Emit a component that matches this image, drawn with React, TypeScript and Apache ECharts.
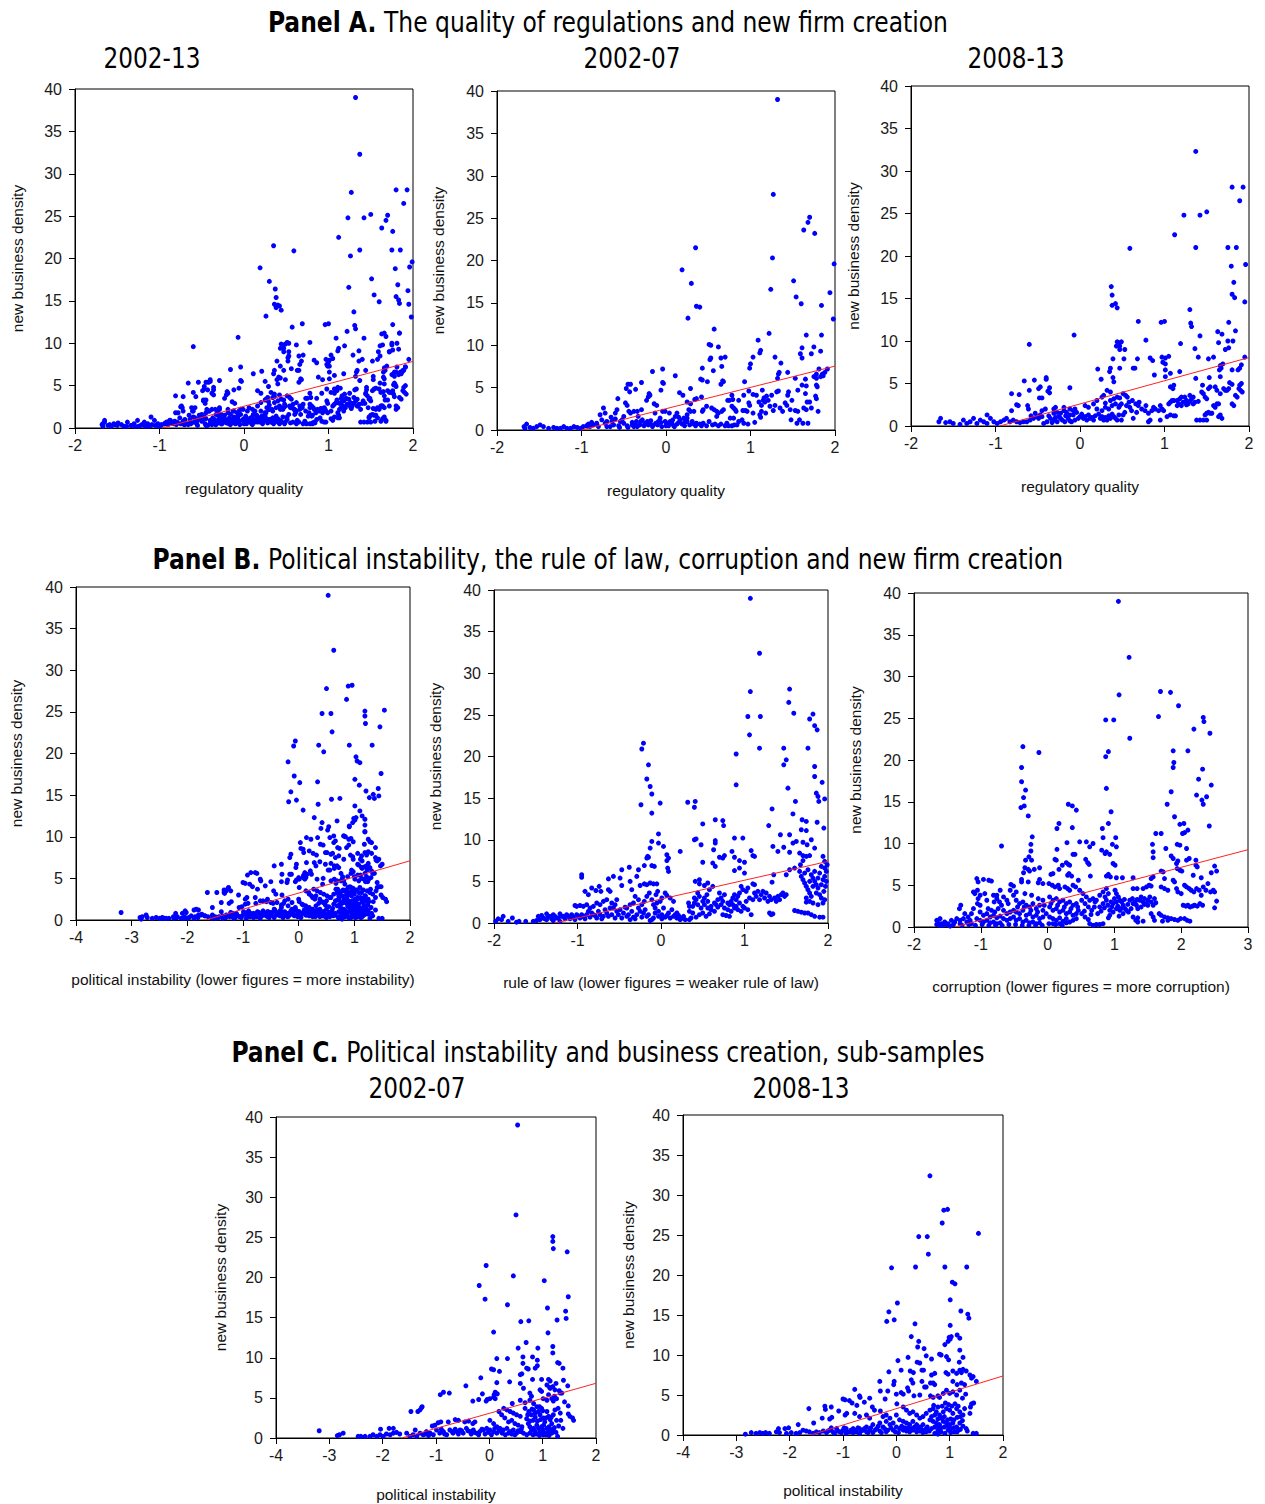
import React, { useEffect, useRef } from "react";
import * as echarts from "echarts";

// ---------- data ----------
// Panel A: regulatory quality vs new business density
const regQuality0207: number[][] = [
  [1.32,39.0],[1.27,27.8],[1.70,25.1],[1.68,24.5],[1.63,23.6],[1.76,23.2],[0.35,21.5],[1.26,20.3],[1.99,19.6],[0.19,18.9],
  [1.51,17.6],[0.30,17.3],[1.24,16.6],[1.94,16.2],[1.54,15.7],[1.60,14.9],[1.84,14.7],[0.36,14.6],[0.40,14.5],[0.26,13.2],
  [1.98,13.1],[0.57,11.9],[1.22,11.4],[1.66,11.2],[1.84,11.2],[1.09,10.6],[1.61,9.7],[1.75,9.8],[0.51,10.1],[0.53,10.0],
  [0.62,9.8],[1.03,8.6],[1.00,7.8],[0.99,7.3],[1.12,9.4],[1.11,9.1],[1.29,8.6],[1.36,7.9],[1.59,9.0],[1.61,8.5],
  [1.72,9.0],[1.83,9.3],[0.53,8.5],[0.52,8.3],[0.65,8.5],[0.70,8.6],[0.43,7.3],[0.66,7.5],[0.56,7.0],[0.67,5.8],
  [0.65,5.4],[0.68,5.7],[0.43,5.9],[0.41,6.0],[0.49,5.7],[-0.16,6.9],[-0.04,7.2],[0.11,6.4],[-0.03,5.5],[-0.04,5.6],
  [-0.29,5.6],[-0.45,5.4],[-0.42,5.4],[-0.47,4.9],[-0.43,4.5],[-0.36,4.8],[-0.57,3.7],[-0.06,4.7],[0.29,4.9],[0.16,4.4],
  [0.20,4.1],[0.93,5.7],[1.44,6.8],[1.34,6.8],[1.33,6.6],[1.32,6.1],[1.91,7.2],[1.81,7.2],[1.78,6.6],[1.83,6.3],
  [1.85,6.6],[1.78,6.1],[1.75,6.3],[1.65,6.0],[1.66,5.2],[1.65,4.3],[1.78,5.3],[1.79,5.1],[1.67,3.3],[1.63,2.6],
  [1.66,2.4],[1.80,2.2],[1.77,4.0],[1.78,3.7],[1.61,5.3],[1.53,6.1],[1.56,4.7],[1.45,4.5],[1.44,4.1],[1.49,3.5],
  [1.41,3.2],[1.43,2.9],[1.35,2.6],[1.29,2.9],[1.23,2.8],[1.21,3.5],[1.17,3.3],[1.15,3.5],[1.13,2.9],[1.10,3.3],
  [1.16,3.8],[1.19,4.0],[1.14,4.7],[1.25,4.1],[1.31,4.5],[1.33,4.6],[1.13,2.2],[1.11,1.8],[1.12,1.5],[1.03,2.0],
  [0.98,3.2],[0.99,2.9],[1.03,4.2],[1.07,4.1],[0.98,4.6],[0.92,4.1],[0.86,3.5],[0.78,4.1],[0.79,3.6],[0.75,3.5],
  [0.73,3.5],[0.82,2.4],[0.83,2.2],[0.91,2.3],[0.94,2.3],[0.96,2.2],[0.78,2.8],[0.80,2.6],[0.80,1.4],[0.76,1.4],
  [0.86,1.0],[0.90,1.2],[0.92,0.8],[0.70,0.5],[0.74,0.5],[0.78,0.5],[0.81,0.6],[0.60,1.6],[0.62,2.0],[0.57,2.4],
  [0.54,2.6],[0.60,2.2],[0.66,2.2],[0.68,2.4],[0.51,1.0],[0.44,0.8],[0.40,0.7],[0.36,0.8],[0.33,0.7],[0.43,2.2],
  [0.44,2.4],[0.48,2.8],[0.42,3.9],[0.34,3.6],[0.36,3.7],[0.29,3.1],[0.25,3.3],[0.27,2.4],[0.29,2.2],[0.33,2.2],
  [0.25,1.8],[0.25,1.4],[0.21,1.4],[0.17,1.2],[0.25,1.0],[0.31,1.0],[0.13,2.0],[0.11,1.6],[0.15,1.5],[0.08,1.2],
  [0.05,1.0],[0.02,0.8],[-0.01,1.0],[0.07,0.8],[0.13,0.7],[0.19,0.7],[0.04,2.0],[-0.01,2.2],[-0.04,2.2],[-0.07,1.4],
  [-0.09,1.0],[-0.12,0.8],[-0.15,0.6],[-0.13,2.0],[-0.14,3.1],[-0.11,2.9],[-0.19,4.1],[-0.21,3.9],[-0.20,4.3],[-0.23,3.5],
  [-0.25,0.8],[-0.21,0.6],[-0.19,0.7],[-0.31,0.6],[-0.34,0.4],[-0.38,0.4],[-0.40,0.6],[-0.29,2.4],[-0.34,2.2],[-0.38,2.2],
  [-0.33,1.6],[-0.42,2.0],[-0.44,2.2],[-0.46,2.9],[-0.48,3.2],[-0.50,1.6],[-0.52,1.2],[-0.54,1.0],[-0.58,2.4],[-0.60,2.0],
  [-0.64,1.0],[-0.62,0.6],[-0.66,0.4],[-0.70,0.4],[-0.72,0.8],[-0.74,2.6],[-0.72,2.0],[-0.78,1.8],[-0.82,0.8],[-0.80,0.4],
  [-0.86,0.6],[-0.90,0.4],[-0.94,0.5],[-0.98,0.4],[-1.01,0.2],[-1.05,0.3],[-1.09,0.4],[-1.13,0.2],[-1.17,0.2],[-1.21,0.4],
  [-1.25,0.2],[-1.29,0.2],[-1.33,0.3],[-1.39,0.2],[-1.45,0.4],[-1.49,0.6],[-1.53,0.4],[-1.57,0.2],[-1.61,0.3],[-1.65,0.7],
  [-1.67,0.2],[-1.68,0.4],[-0.55,0.3],[-0.45,0.3],[-0.35,1.0],[-0.28,1.2],[-0.18,1.1],[-0.05,0.4],[0.00,0.5],[0.10,0.4],
  [0.22,0.5],[0.48,0.5],[0.55,0.6],[0.62,0.5],[1.48,1.2],[1.55,0.8],[1.58,1.2],[1.62,0.8],[1.68,0.8],[1.56,2.2],[1.53,2.3],
  [-0.56,0.5],[-0.50,0.8],[-0.46,0.5],[-0.40,0.9],[-0.36,0.6],[-0.30,1.0],[-0.26,0.5],[-0.22,1.0],[-0.16,0.4],[-0.10,0.6],
  [-0.06,0.9],[0.03,0.5],[0.09,0.5],[0.15,0.9],[0.22,0.9],[0.28,0.6],[0.35,0.5],[0.42,0.5],[0.58,0.7],[0.65,0.7],
  [0.72,0.8],[0.84,0.6],[0.97,0.7],[1.05,0.9],[1.18,2.0],[1.27,2.3],[1.38,2.2],[1.47,2.4],[1.70,3.3],[1.72,2.6],
  [1.86,6.4],[1.88,6.8],[-0.65,1.5],[-0.60,1.3],[-0.70,1.0],[-0.76,1.2],[-0.88,0.9],[-0.92,0.7]
];
const regQuality0813: number[][] = [
  [1.37,32.3],[1.80,28.1],[1.93,28.1],[1.89,26.5],[1.23,24.8],[1.42,24.8],[1.50,25.2],[1.12,22.5],[0.59,20.9],[1.37,21.0],
  [1.75,21.0],[1.85,21.0],[1.96,19.0],[1.79,18.8],[1.82,16.9],[0.37,16.4],[0.38,15.4],[1.80,15.5],[1.83,15.1],[0.38,14.2],
  [0.42,14.4],[0.44,13.9],[1.95,14.6],[1.30,13.7],[0.69,12.3],[0.96,12.2],[1.00,12.3],[1.31,12.1],[1.32,11.7],[1.76,12.2],
  [1.63,11.1],[1.68,10.8],[1.84,11.2],[-0.07,10.7],[1.42,10.6],[0.78,10.1],[-0.60,9.6],[1.19,9.7],[1.64,9.8],[1.75,10.0],
  [1.81,10.0],[0.44,9.9],[0.47,9.8],[0.49,9.9],[0.43,9.4],[0.47,9.4],[0.47,9.0],[0.53,9.0],[1.36,9.1],[1.72,9.0],
  [1.76,9.2],[0.97,8.1],[1.01,8.0],[1.05,8.2],[1.40,8.1],[0.39,7.9],[0.52,7.9],[0.68,7.9],[0.83,8.0],[0.86,7.7],
  [1.58,8.1],[1.52,7.9],[1.95,8.1],[1.69,7.3],[1.66,7.1],[1.91,7.2],[1.87,6.6],[1.89,6.8],[0.47,6.8],[0.63,6.8],
  [0.65,6.8],[0.21,6.7],[0.35,6.4],[0.36,6.8],[1.01,7.3],[0.98,7.5],[1.01,6.6],[1.07,6.2],[1.18,6.4],[1.67,6.8],
  [1.65,6.6],[1.80,6.6],[0.88,6.0],[1.01,5.8],[0.25,5.5],[0.39,5.7],[0.40,5.2],[1.37,5.6],[1.53,5.7],[1.66,5.8],
  [1.77,5.1],[1.80,4.9],[1.89,4.8],[1.91,5.0],[-0.66,5.3],[-0.54,5.4],[-0.40,5.7],[-0.40,5.5],[-0.47,4.6],[-0.49,4.4],
  [-0.36,4.5],[-0.38,4.1],[-0.60,4.2],[-0.48,3.3],[-0.45,3.3],[-0.36,3.9],[-0.12,4.5],[-0.81,3.8],[-0.72,3.7],[-0.75,2.5],
  [-0.73,2.4],[-0.81,1.8],[-0.62,2.4],[-0.61,2.0],[-0.29,2.2],[-0.31,2.0],[-0.19,2.2],[-0.12,2.0],[-0.08,1.8],[-0.06,2.0],
  [-0.04,1.6],[0.06,2.4],[0.10,2.2],[0.16,2.6],[0.20,3.0],[0.26,3.4],[0.28,3.6],[0.32,4.2],[0.36,4.0],[0.40,3.2],
  [0.44,3.4],[0.47,3.3],[0.51,3.8],[0.54,3.6],[0.56,3.4],[0.47,2.4],[0.49,2.6],[0.55,2.4],[0.59,2.2],[0.53,1.6],
  [0.51,1.3],[0.49,0.7],[0.61,1.8],[0.63,0.9],[0.67,1.6],[0.69,2.4],[0.73,2.0],[0.77,1.8],[0.81,1.5],[0.83,0.7],
  [0.81,0.5],[0.87,2.2],[0.89,2.0],[0.93,1.8],[0.95,2.4],[0.95,0.7],[0.97,2.0],[0.99,1.8],[1.03,1.1],[1.07,1.3],
  [1.11,1.2],[1.13,1.2],[1.05,2.6],[1.07,2.8],[1.09,3.0],[1.11,3.0],[1.07,4.6],[1.10,4.4],[1.11,4.8],[1.15,3.0],
  [1.17,2.6],[1.18,3.2],[1.20,2.4],[1.22,2.8],[1.24,3.4],[1.26,3.0],[1.28,2.6],[1.30,3.6],[1.32,3.2],[1.34,2.6],
  [1.36,2.8],[1.38,0.7],[1.42,0.7],[1.45,4.8],[1.44,4.0],[1.46,3.8],[1.48,3.4],[1.50,3.2],[1.52,4.4],[1.54,4.6],
  [1.48,1.3],[1.50,1.5],[1.52,1.6],[1.54,1.5],[1.56,1.5],[1.50,0.7],[1.46,0.7],[1.58,2.4],[1.60,2.2],[1.62,2.6],
  [1.64,2.6],[1.60,4.6],[1.62,4.2],[1.66,3.8],[1.64,1.1],[1.66,1.3],[1.68,0.9],[1.70,4.4],[1.72,4.2],[1.74,4.2],
  [1.76,4.4],[1.80,2.6],[1.82,2.4],[1.84,3.6],[1.86,3.4],[1.88,4.4],[1.90,4.2],[1.92,4.0],[0.24,0.9],[0.28,0.7],
  [0.32,0.7],[0.36,0.9],[0.40,1.1],[0.44,0.7],[0.46,1.3],[0.16,0.7],[0.12,0.9],[0.08,0.7],[0.04,0.9],[0.00,1.1],
  [-0.06,0.7],[-0.10,0.5],[-0.14,0.9],[-0.18,0.5],[-0.21,0.7],[-0.25,1.1],[-0.27,0.5],[-0.31,0.7],[-0.35,0.9],[-0.39,0.5],
  [-0.43,0.3],[-0.31,1.5],[-0.27,1.6],[-0.23,1.5],[-0.19,1.8],[-0.16,1.6],[-0.12,1.3],[-0.08,1.3],[-0.47,1.3],[-0.51,1.1],
  [-0.55,0.9],[-0.59,0.7],[-0.63,0.5],[-0.67,0.5],[-0.71,0.4],[-0.75,0.5],[-0.79,0.7],[-0.83,0.5],[-0.87,0.9],[-0.90,0.7],
  [-0.94,0.5],[-0.41,2.0],[-0.45,1.8],[-0.98,0.3],[-1.02,0.5],[-1.06,0.9],[-1.10,0.3],[-1.14,0.5],[-1.18,0.7],[-1.22,0.3],
  [-1.26,0.9],[-1.30,0.5],[-1.34,0.3],[-1.38,0.7],[-1.42,0.2],[-1.50,0.3],[-1.54,0.5],[-1.59,0.4],[-1.65,0.9],[-1.67,0.5],
  [-1.10,1.3],
  [-0.58,1.2],[-0.53,1.5],[-0.49,0.9],[-0.45,1.1],[-0.37,1.2],[-0.33,0.4],[-0.29,1.0],[-0.23,0.9],[-0.17,1.2],[-0.12,0.6],
  [-0.02,0.9],[0.02,1.4],[0.06,1.1],[0.10,1.3],[0.14,1.0],[0.18,1.2],[0.22,1.4],[0.26,1.1],[0.30,1.0],[0.34,1.2],
  [0.38,1.4],[0.42,0.9],[0.20,2.0],[0.26,1.8],[0.30,2.2],[0.34,2.0],[0.38,2.4],[0.42,2.6],[0.46,2.2],[0.30,2.7],
  [0.36,3.0],[0.58,2.8],[0.62,3.0],[0.66,2.6],[0.70,2.8],[0.78,2.4],[0.85,1.8],[1.26,2.5],[1.30,2.9],[1.34,3.4],
  [1.40,2.9],[1.20,3.4],[1.15,2.4]
];
const regQuality0213: number[][] = [...regQuality0207, ...regQuality0813];

// Panel B/C: political instability (sub-samples; whole period = their union)
const polInstab0207: number[][] = [
  [0.53,39.0],[0.50,27.8],[1.19,25.1],[1.19,24.5],[1.20,23.6],[1.46,23.2],[-0.06,21.5],[0.45,20.2],[1.03,19.6],[-0.19,19.0],
  [-0.08,17.3],[1.48,17.6],[0.34,16.6],[1.09,16.2],[1.43,15.8],[1.44,14.9],[1.27,14.7],[0.59,14.5],[0.74,14.6],[0.08,13.2],
  [1.10,13.1],[0.69,11.9],[0.91,11.2],[0.54,11.2],[1.19,11.4],[1.19,10.6],[0.14,9.9],[0.34,9.9],[0.63,10.1],[0.81,10.1],
  [0.90,9.7],[0.63,9.3],[1.31,9.3],[1.28,9.4],[0.90,9.0],[0.86,8.7],[0.04,8.6],[0.08,8.5],[0.19,8.3],[0.70,8.7],
  [0.73,8.6],[1.38,8.7],[0.58,7.9],[0.61,8.0],[-0.16,7.5],[0.81,7.3],[0.98,7.3],[1.11,7.3],[1.14,7.1],[1.39,7.2],
  [0.38,7.0],[0.14,6.9],[0.58,6.8],[1.25,6.8],[-0.44,6.5],[1.08,6.6],[1.13,6.3],[1.19,6.4],[1.14,6.2],[1.23,6.0],
  [1.47,6.5],[0.64,6.2],[0.95,6.0],[0.98,5.8],[1.31,5.9],[1.36,5.6],[-0.92,5.4],[-0.86,5.7],[-0.75,5.6],[-0.13,5.5],
  [0.11,5.7],[0.09,5.4],[0.15,5.5],[0.76,5.6],[0.79,5.2],[0.58,4.7],[1.11,5.4],[1.01,4.9],[1.08,4.7],[1.17,4.9],
  [1.22,5.2],[1.26,4.9],[1.33,5.6],[-0.31,4.6],[-0.20,4.8],[-0.06,4.6],[-0.04,4.8],[0.01,4.9],[0.08,5.1],[0.11,4.9],
  [0.43,4.3],[0.67,4.4],[0.76,4.7],[0.83,4.3],[1.41,4.5],[1.48,4.0],[1.20,4.6],[-1.27,3.8],[-1.34,3.3],[-1.30,3.5],
  [-1.26,3.9],[-1.47,3.3],[0.27,3.7],[0.33,3.5],[0.39,3.3],[0.45,3.1],[0.51,2.9],[0.58,2.7],[1.48,3.0],[1.51,2.7],
  [1.56,2.5],[1.58,2.2],[0.18,3.3],[0.23,2.9],[0.29,2.5],[0.36,2.0],[0.42,2.2],[0.48,1.8],[0.54,1.6],[0.61,1.4],
  [0.67,3.7],[0.74,3.3],[0.79,2.9],[0.83,3.5],[0.89,3.9],[0.92,3.3],[0.95,2.9],[0.98,3.7],[1.01,2.5],[1.04,2.0],
  [1.08,3.3],[1.11,2.7],[1.14,2.3],[1.17,1.8],[1.20,2.9],[1.23,3.5],[1.26,2.2],[1.29,3.7],[1.33,3.1],[0.73,1.8],
  [0.76,1.4],[0.79,1.0],[0.83,1.2],[0.86,0.8],[0.89,1.6],[0.92,1.2],[0.95,0.8],[0.98,1.4],[1.01,1.0],[1.04,0.6],
  [1.08,1.2],[1.11,0.8],[1.14,1.1],[1.17,0.6],[1.20,1.0],[1.25,0.7],[1.28,0.2],[1.01,0.4],[0.01,2.2],[0.08,1.8],
  [0.14,1.4],[0.20,1.2],[0.26,1.0],[0.33,1.2],[0.39,0.8],[0.45,1.0],[0.51,0.6],[0.58,0.8],[0.64,0.6],[0.01,1.0],
  [0.08,0.8],[0.14,0.6],[-0.05,1.2],[-0.11,1.0],[-0.18,0.8],[-0.24,0.6],[-0.30,1.0],[-0.36,0.8],[-0.43,1.2],[-0.49,0.6],
  [-0.55,1.0],[-0.61,0.8],[-0.68,0.6],[-0.74,1.0],[-0.80,0.4],[-0.86,0.8],[-0.93,0.6],[-0.99,1.0],[-1.05,0.4],[-1.11,0.6],
  [-1.18,0.8],[-1.24,0.4],[-1.30,0.6],[-1.36,0.2],[-1.43,0.4],[-1.49,0.2],[-1.55,0.6],[-0.96,1.9],[-0.91,2.0],[-0.77,2.0],
  [-0.64,2.3],[-0.58,2.2],[-0.46,2.0],[-0.39,2.1],[-0.27,2.0],[-0.31,1.8],[-1.07,1.5],[-1.02,1.6],[-1.39,1.0],[-1.68,0.5],
  [-1.74,0.7],[-1.80,0.6],[-1.86,0.4],[-1.93,0.5],[-1.99,0.2],[-2.05,0.4],[-2.11,0.2],[-2.04,1.1],[-1.88,1.2],[-1.80,1.2],
  [-2.18,0.4],[-2.24,0.2],[-2.33,0.2],[-2.41,0.2],[-2.46,0.2],[-2.74,0.6],[-2.81,0.4],[-2.85,0.3],[-3.19,0.9],
  [0.70,0.4],[0.76,0.6],[0.82,0.4],[0.88,0.5],[0.94,0.3],[1.00,0.7],[1.06,0.4],[1.12,0.3],[0.70,2.4],[0.76,2.1],
  [0.82,2.2],[0.86,2.6],[0.90,2.1],[0.96,2.3],[1.02,1.6],[1.06,2.5],[1.12,1.4],[1.16,2.6],[1.22,1.3],[1.30,1.5],
  [1.34,2.2],[1.38,1.2],[0.72,2.9],[0.80,3.6],[0.86,3.1],[0.94,3.9],[1.00,3.4],[0.04,0.4],[0.10,1.2],[0.18,0.9],
  [0.24,0.6],[0.30,0.4],[0.36,0.6],[0.42,0.5],[0.48,0.4],[0.54,0.9],[0.60,1.1],[-0.02,0.7],[-0.08,0.5],[-0.14,1.1],
  [-0.20,0.4],[-0.28,0.7],[-0.34,0.5],[-0.40,0.9],[-0.52,0.9],[-0.58,0.5],[-0.64,1.1],[-0.70,0.8],[-0.84,0.5],[-0.90,1.1],
  [-1.14,0.3],[-1.20,0.5]
];
const polInstab0813: number[][] = [
  [0.63,32.4],[0.89,28.1],[0.96,28.2],[0.86,26.5],[1.54,25.2],[0.42,24.8],[0.58,24.8],[0.60,22.6],[-0.09,20.9],[0.36,21.0],
  [0.91,21.0],[1.32,21.0],[1.05,19.1],[1.10,18.9],[1.01,16.9],[0.02,16.5],[-0.14,15.4],[1.21,15.5],[-0.04,14.4],[-0.18,14.2],
  [1.34,15.1],[1.36,14.6],[0.35,13.9],[1.01,13.7],[0.28,12.3],[0.42,11.7],[0.40,11.0],[0.91,11.3],[0.99,12.2],[1.03,12.3],
  [1.14,12.5],[1.19,12.1],[0.97,11.7],[1.01,12.0],[0.52,10.8],[1.19,10.6],[0.84,10.0],[0.81,10.1],[0.66,9.5],[0.22,9.7],
  [0.39,9.1],[0.44,9.0],[0.03,9.3],[0.56,9.9],[0.94,9.8],[0.98,9.4],[1.25,9.7],[1.18,9.1],[0.09,8.1],[-0.14,7.9],
  [0.26,8.0],[0.32,7.8],[0.48,8.1],[0.51,8.1],[0.72,7.7],[0.93,7.8],[0.97,7.6],[1.06,8.0],[1.13,7.7],[1.19,8.1],
  [1.22,7.8],[1.25,8.2],[1.31,8.0],[1.38,7.5],[1.41,7.1],[-0.31,6.7],[-0.04,6.7],[-0.05,6.3],[0.28,6.9],[0.31,6.5],
  [0.48,6.7],[0.66,7.5],[0.64,6.5],[0.53,6.0],[0.56,6.0],[0.69,6.5],[0.72,6.3],[1.06,6.7],[1.14,6.3],[1.22,6.5],
  [1.28,6.3],[1.50,6.7],[1.44,7.3],[-0.30,5.5],[-0.16,5.5],[-0.78,5.7],[0.00,5.1],[0.09,5.3],[0.13,5.1],[0.21,5.9],
  [0.23,5.5],[0.33,4.9],[0.44,5.0],[0.64,4.9],[0.69,4.7],[0.78,4.9],[0.81,4.7],[0.88,5.2],[0.94,5.6],[1.00,5.2],
  [1.06,5.4],[1.13,5.0],[1.19,5.6],[1.24,4.6],[1.30,5.1],[-0.69,4.9],[-0.68,4.7],[-0.50,4.6],[-1.00,4.5],[-0.96,4.4],
  [-0.88,4.3],[-0.83,4.0],[-0.60,4.1],[-0.74,3.7],[-0.45,3.5],[-0.41,3.1],[-0.30,3.0],[-0.21,4.5],[0.01,3.9],[-1.34,3.6],
  [-1.33,3.2],[-1.22,3.5],[-1.64,3.3],[-1.08,3.0],[-0.96,2.5],[-0.93,2.7],[-1.25,2.0],[-1.21,2.2],[-1.39,2.1],[-1.55,1.5],
  [-1.84,1.3],[1.38,2.7],[1.41,3.9],[1.45,4.0],[1.39,3.5],[1.31,0.8],[1.33,0.5],[1.44,0.2],[1.50,0.2],[0.13,3.5],
  [0.19,3.1],[0.25,2.7],[0.31,2.9],[0.38,2.5],[0.44,2.1],[0.50,2.3],[0.56,2.7],[0.63,3.1],[0.69,3.3],[0.75,2.9],
  [0.81,2.5],[0.88,2.9],[0.94,3.3],[1.00,3.1],[1.06,2.7],[1.13,3.3],[1.19,2.9],[1.25,2.5],[1.28,3.3],[0.63,1.9],
  [0.69,1.7],[0.75,1.5],[0.81,1.3],[0.88,1.7],[0.94,1.5],[1.00,1.3],[1.06,1.5],[1.13,1.0],[1.19,1.5],[1.25,1.1],
  [0.78,0.6],[0.84,0.4],[0.91,0.2],[0.72,0.2],[0.78,0.1],[0.97,0.6],[1.03,0.8],[1.09,0.4],[1.16,0.6],[0.00,2.5],
  [0.06,1.9],[0.13,1.7],[0.19,1.5],[0.25,1.3],[0.31,1.7],[0.38,1.3],[0.44,1.0],[0.50,1.3],[0.56,0.8],[0.00,1.0],
  [0.06,0.8],[0.13,0.6],[0.19,0.5],[0.25,0.4],[0.31,0.6],[0.38,0.4],[0.44,0.5],[0.50,0.3],[0.56,0.4],[-0.06,1.5],
  [-0.12,1.3],[-0.19,1.7],[-0.25,1.0],[-0.31,1.5],[-0.37,0.8],[-0.44,1.3],[-0.50,0.6],[-0.56,1.0],[-0.62,0.6],[-0.69,0.8],
  [-0.75,0.4],[-0.81,0.8],[-0.87,0.4],[-0.94,0.8],[-1.00,0.6],[-1.06,0.4],[-1.12,0.8],[-1.19,0.4],[-1.25,0.6],[-1.31,0.3],
  [-1.37,0.5],[-1.44,0.3],[-1.50,0.4],[-1.56,0.2],[-0.06,0.6],[-0.19,0.4],[-0.31,0.5],[-0.44,0.3],[-0.56,0.4],[-0.69,0.2],
  [-0.81,0.3],[-0.94,0.2],[-0.78,2.7],[-0.69,2.3],[-0.56,2.5],[-0.50,2.1],[-0.25,2.3],[-0.19,2.5],[-0.12,2.1],[-1.63,0.4],
  [-1.69,0.5],[-1.75,0.6],[-1.81,0.3],[-1.88,0.2],[-1.97,0.3],[-2.02,0.9],[-2.06,0.2],[-2.09,0.8],[-2.19,0.3],[-2.25,0.4],
  [-2.38,0.2],[-2.45,0.3],[-2.50,0.2],[-2.56,0.3],[-2.63,0.2],[-2.72,0.3],[-2.83,0.1],[-2.21,0.8],
  [0.66,0.8],[0.72,1.0],[0.78,1.1],[0.84,0.9],[0.90,1.0],[0.96,1.1],[1.02,0.3],[1.08,0.9],[1.14,0.4],[1.20,0.7],
  [0.66,2.3],[0.72,2.5],[0.78,2.0],[0.84,2.1],[0.90,2.3],[0.96,1.9],[1.02,2.0],[1.08,1.9],[1.14,2.2],[1.20,2.3],
  [1.24,1.8],[0.70,3.7],[0.78,3.5],[0.86,3.6],[0.92,4.0],[0.98,3.8],[1.04,3.6],[1.10,3.9],[1.16,3.6],[0.04,0.3],
  [0.10,1.1],[0.16,0.9],[0.22,0.9],[0.28,0.8],[0.34,1.0],[0.40,0.7],[0.46,0.8],[0.52,0.6],[0.58,1.0],[0.62,0.5],
  [-0.02,0.4],[-0.10,0.9],[-0.16,0.6],[-0.22,0.8],[-0.28,0.3],[-0.34,1.1],[-0.40,0.6],[-0.48,0.9],[-0.53,0.3],[-0.60,0.8],
  [-0.66,0.5],[-0.72,0.9],[-0.78,0.6],[-0.85,0.6],[-0.92,0.4],[-0.98,0.9],[-1.03,0.3],[-1.10,0.5],[-1.16,0.2],[-1.22,0.9],
  [-1.28,0.5]
];
const polInstab0213: number[][] = [...polInstab0207, ...polInstab0813];

// Panel B: rule of law (2002-13)
const ruleOfLaw0213: number[][] = [
  [1.07,39.0],[1.18,32.4],[1.07,27.8],[1.54,28.1],[1.53,26.5],[1.59,25.2],[1.04,24.8],[1.19,24.8],[1.82,25.1],[1.78,24.5],
  [1.84,23.7],[1.87,23.2],[1.06,22.6],[1.18,21.0],[1.47,21.0],[1.76,21.0],[-0.21,21.6],[-0.23,20.9],[0.90,20.3],[1.50,19.6],
  [1.47,19.0],[-0.15,19.0],[1.84,18.8],[-0.17,17.3],[1.84,17.6],[1.93,16.9],[-0.13,16.4],[0.90,16.6],[1.52,16.2],[-0.11,15.5],
  [1.86,15.6],[1.88,15.2],[1.96,14.9],[-0.01,14.4],[0.32,14.5],[0.41,14.6],[0.40,13.9],[1.61,14.6],[1.89,14.6],[-0.24,14.2],
  [-0.11,13.2],[1.33,13.7],[1.58,13.1],[0.65,12.4],[0.74,12.3],[0.75,11.7],[1.69,12.4],[1.74,12.2],[1.87,12.1],[0.50,11.9],
  [1.29,11.7],[1.68,11.2],[1.74,11.1],[1.95,11.4],[-0.03,10.7],[1.43,10.6],[1.54,10.6],[0.88,10.2],[0.98,10.2],[0.40,10.0],
  [0.42,10.1],[0.65,9.9],[0.65,9.6],[-0.11,9.8],[-0.03,9.6],[0.03,9.2],[-0.13,9.0],[0.48,9.4],[1.58,9.6],[1.62,9.8],
  [1.70,9.7],[1.80,10.0],[1.75,9.4],[1.84,9.0],[1.34,9.2],[1.47,9.1],[1.40,8.6],[1.54,8.5],[0.23,8.6],[0.07,8.2],
  [0.09,7.8],[0.07,7.5],[0.63,8.8],[1.08,8.7],[1.10,8.1],[1.12,8.0],[0.85,8.6],[0.88,7.9],[0.70,7.9],[0.74,7.8],
  [0.76,8.1],[-0.16,8.0],[-0.17,7.8],[-0.15,7.9],[-0.20,6.9],[-0.11,6.9],[-0.08,6.8],[0.08,6.6],[0.09,6.2],[0.50,7.3],
  [0.62,7.2],[0.65,6.8],[0.94,7.5],[1.00,7.3],[0.94,6.6],[0.88,6.3],[1.67,7.0],[1.70,7.5],[1.66,8.4],[1.70,8.1],
  [1.74,8.0],[1.78,8.1],[1.94,8.0],[1.96,7.4],[1.92,6.8],[1.96,6.6],[1.99,7.0],[1.50,5.8],[1.54,6.4],[1.60,6.6],
  [1.66,6.2],[1.68,5.6],[1.70,5.2],[1.72,4.8],[1.74,4.4],[1.76,4.0],[1.78,3.6],[1.80,5.8],[1.82,5.4],[1.84,5.0],
  [1.86,4.6],[1.88,4.2],[1.92,4.6],[1.94,5.2],[1.96,5.6],[1.97,4.4],[1.95,3.8],[1.90,3.4],[1.86,3.6],[1.74,2.5],
  [1.78,2.6],[1.82,2.4],[1.88,2.2],[1.94,2.4],[1.96,2.8],[1.60,1.5],[1.64,1.4],[1.68,1.3],[1.72,1.2],[1.76,1.2],
  [1.80,1.0],[1.84,0.8],[1.90,0.7],[1.94,0.7],[1.12,3.6],[1.16,3.8],[1.20,3.4],[1.24,3.0],[1.28,2.6],[1.32,2.8],
  [1.36,3.0],[1.40,3.2],[1.44,3.4],[1.46,3.6],[1.48,3.2],[1.50,3.4],[1.30,1.2],[1.32,1.0],[1.34,1.1],[1.08,1.0],
  [1.33,4.9],[1.35,5.8],[1.10,4.7],[1.12,4.6],[1.00,6.0],[1.04,4.2],[1.02,3.8],[0.98,4.0],[0.96,4.4],[0.94,3.6],
  [0.92,3.2],[0.90,2.8],[0.88,3.4],[0.86,3.0],[0.84,2.6],[0.82,2.2],[0.80,1.6],[0.84,1.4],[0.88,1.8],[0.92,1.6],
  [0.96,1.4],[1.00,1.8],[1.04,1.6],[0.74,1.0],[0.78,0.9],[0.82,0.8],[0.70,3.6],[0.72,3.0],[0.74,2.6],[0.76,3.4],
  [0.68,2.8],[0.66,2.2],[0.62,4.4],[0.58,4.0],[0.55,3.4],[0.52,3.0],[0.50,2.6],[0.46,3.2],[0.44,3.6],[0.42,2.8],
  [0.40,2.4],[0.38,2.0],[0.56,1.8],[0.60,1.6],[0.64,1.4],[0.58,1.1],[0.54,0.8],[0.50,1.2],[0.46,1.0],[0.42,0.7],
  [0.38,1.2],[0.36,0.6],[0.34,0.4],[0.46,5.2],[0.41,5.0],[0.46,4.7],[0.52,4.5],[0.56,4.8],[0.34,1.4],[0.33,2.4],
  [0.34,2.0],[0.15,0.8],[0.19,0.6],[0.23,0.4],[0.27,0.8],[0.19,1.2],[0.13,1.6],[0.09,1.2],[0.05,0.7],[0.01,0.5],
  [-0.03,0.8],[-0.07,1.2],[-0.09,0.6],[-0.13,0.3],[-0.17,0.8],[-0.21,1.2],[-0.25,1.4],[-0.29,1.0],[-0.33,0.7],[-0.37,0.4],
  [-0.41,0.8],[-0.45,1.2],[-0.49,1.6],[0.15,2.6],[0.11,3.0],[0.07,3.3],[0.05,3.6],[0.01,3.0],[-0.01,2.6],[-0.05,2.4],
  [-0.09,2.2],[-0.11,2.8],[-0.14,3.6],[-0.17,3.2],[-0.20,2.6],[-0.23,2.2],[-0.27,2.8],[-0.31,3.2],[-0.33,2.4],[-0.37,2.2],
  [-0.41,1.8],[-0.09,4.7],[-0.05,4.7],[-0.13,4.8],[-0.17,4.6],[-0.20,4.7],[-0.25,4.5],[-0.06,3.4],[-0.04,3.8],[-0.29,5.6],
  [-0.27,6.4],[-0.37,5.0],[-0.35,4.0],[-0.47,6.4],[-0.38,6.7],[-0.57,5.6],[-0.63,5.3],[-0.49,5.4],[-0.47,4.5],[-0.61,3.8],
  [-0.63,4.0],[-0.72,3.8],[-0.74,4.4],[-0.78,3.9],[-0.83,4.2],[-0.87,3.4],[-0.91,3.8],[-0.95,5.8],[-0.95,5.5],[-0.65,2.8],
  [-0.69,2.6],[-0.73,2.2],[-0.77,2.4],[-0.81,2.0],[-0.85,1.8],[-0.89,2.2],[-0.93,2.0],[-0.97,2.1],[-1.01,2.0],[-1.03,2.1],
  [-0.53,2.8],[-0.55,2.2],[-0.59,2.4],[-0.57,1.8],[-0.53,1.4],[-0.59,1.0],[-0.65,1.2],[-0.69,0.8],[-0.73,1.0],[-0.77,0.6],
  [-0.81,1.0],[-0.85,0.7],[-0.89,1.0],[-0.93,0.8],[-0.97,0.6],[-1.01,1.0],[-1.05,0.7],[-1.09,0.5],[-1.13,1.0],[-1.17,0.8],
  [-1.21,1.1],[-1.25,0.6],[-1.29,1.0],[-1.33,0.8],[-1.37,1.1],[-1.41,0.6],[-1.45,0.4],[-1.49,0.3],[-1.53,0.2],[-1.37,0.4],
  [-1.29,0.3],[-1.21,0.2],[-1.62,0.2],[-1.70,0.2],[-1.73,0.1],[-1.78,0.6],[-1.83,0.2],[-1.89,0.8],[-1.91,0.4],[-1.95,0.5],
  [-1.98,0.2],
  [-1.47,0.8],[-1.43,0.9],[-1.39,0.5],[-1.35,0.7],[-1.31,0.5],[-1.27,0.8],[-1.23,0.6],[-1.19,0.8],[-1.15,0.5],[-1.11,0.8],
  [-1.07,1.0],[-1.03,0.4],[-0.99,0.8],[-0.95,1.0],[-0.91,0.5],[-0.87,1.4],[-0.83,1.2],[-0.79,0.9],[-0.75,1.4],[-0.71,0.5],
  [-0.67,1.6],[-0.63,0.8],[-0.61,1.8],[-0.55,0.6],[-0.51,1.0],[-0.47,0.6],[-0.43,1.9],[-0.39,1.0],[-0.35,1.4],[-0.31,0.5],
  [-0.27,1.8],[-0.23,0.7],[-0.19,1.6],[-0.15,1.0],[-0.11,0.4],[-0.07,1.8],[-0.03,1.4],[0.01,1.0],[0.03,1.8],[0.07,0.9],
  [0.11,0.6],[0.17,1.0],[0.21,0.9],[0.25,0.6],[0.29,0.4],[0.40,3.0],[0.44,2.2],[0.48,1.8],[0.52,2.2],[0.56,2.6],
  [0.60,2.0],[0.64,2.4],[0.68,1.9],[0.72,2.2],[0.76,1.8],[0.80,2.4],[0.86,2.2],[0.90,2.0],[0.94,2.4],[0.98,2.0],
  [1.02,2.6],[1.06,3.0],[1.10,2.8],[1.14,3.2],[1.18,2.8],[1.22,3.8],[1.26,3.6],[1.30,3.2],[1.38,2.6],[1.42,2.8],
  [1.72,6.0],[1.76,6.4],[1.78,5.0],[1.82,4.4],[1.84,6.2],[1.88,5.4],[1.90,6.0],[1.92,3.0],[1.98,5.0],[1.98,6.2],
  [1.74,3.0],[1.80,3.2]
];

// Panel B: corruption (2002-13)
const corruption0213: number[][] = [
  [1.06,39.0],[1.22,32.3],[1.07,27.8],[1.69,28.2],[1.84,28.1],[1.96,26.5],[1.66,25.2],[0.87,24.8],[0.99,24.8],[2.33,25.1],
  [2.34,24.6],[2.19,23.7],[2.43,23.2],[1.23,22.6],[-0.37,21.6],[-0.13,20.9],[0.91,21.0],[0.87,20.4],[1.88,21.1],[2.10,21.1],
  [1.89,19.7],[1.88,19.1],[-0.39,19.1],[2.32,18.9],[2.26,17.7],[-0.39,17.4],[2.45,17.0],[-0.33,16.4],[0.88,16.6],[1.85,16.2],
  [2.23,15.8],[2.38,15.6],[-0.36,15.5],[-0.35,14.5],[-0.40,14.3],[2.31,15.2],[2.33,14.7],[0.31,14.7],[0.37,14.5],[0.43,14.0],
  [1.79,14.7],[0.95,13.8],[-0.29,13.3],[1.90,13.2],[0.17,12.4],[0.14,11.8],[0.91,12.4],[0.37,11.9],[1.98,12.3],[2.04,12.4],
  [2.10,11.6],[2.42,12.1],[0.82,11.8],[1.62,11.2],[1.70,11.2],[2.02,11.2],[2.05,11.3],[-0.23,10.8],[0.29,10.1],[0.48,10.2],
  [0.58,10.2],[0.83,10.7],[1.02,10.7],[-0.69,9.7],[-0.25,9.9],[0.68,10.0],[0.97,9.9],[1.03,9.6],[1.57,9.9],[1.94,9.9],
  [1.98,9.8],[2.08,9.4],[0.63,9.6],[1.77,9.4],[0.14,9.3],[-0.25,9.1],[-0.28,8.4],[0.81,9.2],[0.86,8.8],[0.88,9.0],
  [0.93,8.7],[0.38,8.7],[0.41,8.7],[1.58,9.0],[1.85,8.5],[1.88,8.2],[2.08,8.0],[2.12,8.2],[1.95,7.9],[1.93,7.6],
  [0.11,8.1],[0.13,8.0],[0.57,8.1],[0.60,7.7],[0.62,7.5],[-0.33,8.0],[-0.24,8.0],[1.58,8.3],[2.22,8.0],[0.22,7.4],
  [0.28,7.7],[0.31,7.5],[0.33,7.4],[0.98,7.6],[1.01,7.4],[2.22,7.4],[2.24,7.2],[2.50,7.3],[-0.34,7.1],[-0.29,6.9],
  [-0.27,6.7],[-0.20,6.9],[-0.12,7.1],[0.17,6.9],[1.70,6.7],[1.73,6.6],[1.94,7.0],[1.98,6.8],[2.01,6.7],[2.53,6.7],
  [2.45,6.5],[0.30,6.2],[0.32,6.4],[0.36,6.1],[0.64,6.1],[0.05,6.3],[0.08,6.4],[-0.36,6.5],[0.88,6.1],[0.91,6.3],
  [0.94,6.0],[1.03,5.9],[1.12,5.9],[1.28,5.9],[1.55,5.8],[1.58,6.0],[2.18,6.2],[2.30,5.9],[1.75,5.8],[1.88,5.6],
  [1.90,5.4],[-1.06,5.8],[-1.04,5.4],[-0.96,5.7],[-0.88,5.6],[-0.84,5.5],[-0.12,5.7],[-0.14,5.3],[0.02,5.2],[0.07,5.0],
  [0.11,4.8],[0.46,5.6],[-0.39,5.7],[-0.39,5.4],[-0.29,5.4],[-0.55,5.1],[-0.51,4.9],[-0.07,5.2],[0.16,5.0],[0.18,4.6],
  [0.26,4.8],[0.30,4.6],[0.33,4.4],[0.38,5.0],[0.42,4.8],[1.28,4.6],[1.34,4.6],[1.43,4.6],[1.48,4.8],[1.52,5.0],
  [1.55,4.9],[1.70,4.8],[1.75,4.6],[1.80,4.4],[1.93,4.6],[1.95,4.2],[2.00,4.0],[2.05,5.0],[2.08,4.8],[2.12,4.6],
  [2.15,4.4],[2.19,4.2],[2.23,4.6],[2.27,4.4],[2.30,3.8],[2.33,4.8],[2.37,4.4],[2.40,5.2],[2.44,4.2],[2.48,4.4],
  [2.50,4.2],[2.53,3.1],[2.50,2.3],[2.32,2.6],[2.28,2.8],[2.03,2.6],[2.07,2.5],[2.10,2.6],[2.13,2.4],[2.17,2.5],
  [2.20,2.6],[2.24,2.5],[2.05,1.0],[2.09,0.8],[2.13,0.7],[1.67,1.6],[1.70,1.4],[1.75,1.2],[1.80,1.1],[1.85,1.0],
  [1.90,0.9],[1.95,0.8],[1.99,1.0],[1.55,1.6],[1.58,1.2],[1.60,0.8],[1.72,0.7],[1.80,0.8],[1.23,3.2],[1.27,3.4],
  [1.31,3.0],[1.34,3.3],[1.38,3.2],[1.40,3.6],[1.43,3.0],[1.45,3.4],[1.48,2.8],[1.50,3.2],[1.53,3.6],[1.55,3.0],
  [1.58,2.6],[1.33,2.6],[1.28,2.8],[1.35,2.2],[1.28,1.2],[1.32,0.8],[1.35,1.1],[1.43,0.7],[1.35,0.6],[1.01,4.4],
  [1.03,4.0],[1.06,3.6],[1.08,3.2],[1.11,3.0],[1.13,2.6],[1.16,2.2],[1.18,2.0],[1.21,1.8],[1.03,3.0],[0.98,2.8],
  [0.96,2.4],[0.93,2.0],[0.98,1.8],[1.03,2.2],[1.08,2.0],[1.13,1.6],[0.93,1.4],[0.91,1.1],[1.07,1.3],[0.78,2.4],
  [0.83,2.8],[0.88,3.2],[0.86,3.6],[0.91,4.0],[0.83,4.2],[0.88,4.6],[0.78,3.8],[0.73,3.2],[0.48,4.4],[0.53,4.0],
  [0.58,3.6],[0.63,3.2],[0.68,3.4],[0.71,3.0],[0.51,3.2],[0.56,2.8],[0.61,2.4],[0.66,2.0],[0.46,2.0],[0.51,1.6],
  [0.56,1.2],[0.61,0.9],[0.63,0.4],[0.68,0.2],[0.73,0.3],[0.78,0.3],[0.83,0.4],[0.03,3.6],[0.08,3.2],[0.13,3.4],
  [0.18,3.0],[0.23,3.2],[0.28,2.8],[0.33,3.0],[0.38,2.6],[0.43,2.8],[0.03,2.4],[0.08,2.0],[0.13,2.2],[0.18,1.8],
  [0.23,2.0],[0.28,1.6],[0.33,1.8],[0.38,1.4],[0.43,1.6],[-0.02,1.6],[0.03,1.2],[0.08,1.0],[0.13,0.8],[0.18,1.1],
  [0.23,0.7],[0.28,1.0],[0.33,0.6],[0.38,0.8],[0.43,1.0],[0.08,0.4],[0.18,0.4],[0.28,0.5],[-0.47,3.2],[-0.42,2.8],
  [-0.37,3.0],[-0.32,2.6],[-0.27,2.4],[-0.22,2.8],[-0.17,2.2],[-0.12,2.6],[-0.07,2.0],[-0.51,2.0],[-0.47,1.8],[-0.42,1.6],
  [-0.37,2.0],[-0.32,1.4],[-0.27,1.6],[-0.22,1.2],[-0.17,1.4],[-0.12,1.0],[-0.07,1.2],[-0.51,1.2],[-0.47,0.8],[-0.42,1.0],
  [-0.37,0.6],[-0.32,0.8],[-0.27,0.5],[-0.22,0.6],[-0.17,0.4],[-0.12,0.5],[-0.51,3.8],[-0.56,4.4],[-0.47,4.2],[-0.34,4.0],
  [-0.24,3.8],[-0.14,3.4],[-0.07,3.2],[-1.11,4.2],[-1.09,4.0],[-1.05,4.4],[-1.01,3.8],[-1.04,3.4],[-0.94,4.0],[-0.91,3.2],
  [-0.81,3.8],[-0.76,3.4],[-0.71,4.4],[-0.66,3.6],[-0.61,3.2],[-0.59,2.8],[-0.72,3.0],[-0.69,2.6],[-0.89,2.2],[-0.84,2.0],
  [-0.79,1.8],[-0.74,2.2],[-0.66,2.0],[-0.61,1.6],[-0.56,1.8],[-1.01,1.8],[-0.96,1.4],[-0.91,1.6],[-0.86,1.2],[-0.81,1.4],
  [-0.76,1.1],[-0.71,1.3],[-0.66,1.0],[-0.61,0.8],[-0.56,1.0],[-1.06,1.0],[-1.01,0.8],[-0.96,0.6],[-0.91,0.8],[-0.86,0.5],
  [-0.81,0.6],[-0.76,0.4],[-0.71,0.5],[-1.11,2.2],[-1.14,1.6],[-1.05,2.8],[-1.01,2.6],[-0.80,3.0],[-0.76,3.8],[-1.32,2.2],
  [-1.30,2.6],[-1.24,1.6],[-1.19,1.2],[-1.26,1.0],[-1.31,0.8],[-1.36,1.0],[-1.39,0.6],[-1.44,0.8],[-1.49,0.4],[-1.54,0.6],
  [-1.59,0.4],[-1.64,0.5],[-1.66,0.8],[-1.61,1.0],[-1.56,0.2],[-1.51,0.3],[-1.41,0.3],[-1.31,0.4],[-1.21,0.6],[-1.16,0.8],
  [-1.14,0.4],[-1.66,0.3],[-1.61,0.2],[-1.46,0.1],
  [-1.28,0.2],[-1.18,0.3],[-1.08,0.2],[-0.98,0.3],[-0.88,0.2],[-0.78,0.2],[-0.68,0.2],[-0.58,0.3],[-0.48,0.3],[-0.38,0.2],
  [-0.28,0.2],[-0.18,0.2],[-0.08,0.2],[0.02,0.4],[0.12,0.3],[0.22,0.2],[-0.45,2.4],[-0.35,2.4],[-0.25,2.0],[-0.15,1.8],
  [-0.05,2.6],[0.05,2.8],[0.15,2.6],[0.25,2.4],[0.35,2.2],[0.45,2.4],[0.55,1.9],[0.65,1.5],[0.70,2.4],[0.75,1.6],
  [0.80,1.9],[0.85,2.3],[0.90,2.6],[0.95,3.0],[1.00,3.4],[1.05,2.5],[1.10,2.2],[1.15,3.3],[1.20,2.7],[1.25,2.2],
  [1.40,2.4],[1.45,2.7],[1.50,2.6],[1.60,3.4],[1.62,2.9]
];

// fitted regression lines: [start, end] points
const fitRegQuality0213: number[][] = [[-0.97, 0], [2, 7.86]];
const fitRegQuality0207: number[][] = [[-1.0, 0], [2, 7.54]];
const fitRegQuality0813: number[][] = [[-0.95, 0], [2, 8.05]];
const fitPolInstab0213: number[][] = [[-1.67, 0], [2, 7.11]];
const fitRuleOfLaw0213: number[][] = [[-1.27, 0], [2, 7.4]];
const fitCorruption0213: number[][] = [[-1.39, 0], [3, 9.26]];
const fitPolInstab0207: number[][] = [[-1.64, 0], [2, 6.82]];
const fitPolInstab0813: number[][] = [[-1.61, 0], [2, 7.38]];

const yRange = [0, 40];
const yStep = 5;

// ---------- layout ----------
const NARROW = "'Liberation Sans Narrow', 'DejaVu Sans Condensed', 'Arial Narrow', sans-serif";
const SANS = "'Liberation Sans', Arial, sans-serif";

const panels = [
  { data: regQuality0213, fit: fitRegQuality0213, xMin: -2, xMax: 2, xName: "regulatory quality", grid: { left: 75, top: 89, width: 338, height: 339 }, yGap: 50, xGap: 52 },
  { data: regQuality0207, fit: fitRegQuality0207, xMin: -2, xMax: 2, xName: "regulatory quality", grid: { left: 497, top: 91, width: 338, height: 339 }, yGap: 51, xGap: 52 },
  { data: regQuality0813, fit: fitRegQuality0813, xMin: -2, xMax: 2, xName: "regulatory quality", grid: { left: 911, top: 86, width: 338, height: 340 }, yGap: 50, xGap: 52 },
  { data: polInstab0213, fit: fitPolInstab0213, xMin: -4, xMax: 2, xName: "political instability (lower figures = more instability)", grid: { left: 76, top: 587, width: 334, height: 333 }, yGap: 52, xGap: 51 },
  { data: ruleOfLaw0213, fit: fitRuleOfLaw0213, xMin: -2, xMax: 2, xName: "rule of law (lower figures = weaker rule of law)", grid: { left: 494, top: 590, width: 334, height: 333 }, yGap: 51, xGap: 51 },
  { data: corruption0213, fit: fitCorruption0213, xMin: -2, xMax: 3, xName: "corruption (lower figures = more corruption)", grid: { left: 914, top: 593, width: 334, height: 334 }, yGap: 51, xGap: 51 },
  { data: polInstab0207, fit: fitPolInstab0207, xMin: -4, xMax: 2, xName: "political instability", grid: { left: 276, top: 1117, width: 320, height: 321 }, yGap: 48, xGap: 48 },
  { data: polInstab0813, fit: fitPolInstab0813, xMin: -4, xMax: 2, xName: "political instability", grid: { left: 683, top: 1115, width: 320, height: 320 }, yGap: 47, xGap: 47 },
];

const titles = [
  { bold: "Panel A.", rest: " The quality of regulations and new firm creation", x: 608, y: 22 },
  { bold: "Panel B.", rest: " Political instability, the rule of law, corruption and new firm creation", x: 608, y: 559 },
  { bold: "Panel C.", rest: " Political instability and business creation, sub-samples", x: 608, y: 1052 },
];
const subtitles = [
  { text: "2002-13", x: 152, y: 58 },
  { text: "2002-07", x: 632, y: 58 },
  { text: "2008-13", x: 1016, y: 58 },
  { text: "2002-07", x: 417, y: 1088 },
  { text: "2008-13", x: 801, y: 1088 },
];

export default function App() {
  const ref = useRef<HTMLDivElement>(null);
  useEffect(() => {
    if (!ref.current) return;
    const chart = echarts.init(ref.current, undefined, { renderer: "svg" });
    const axisLabel = { fontSize: 16, color: "#1a1a1a", fontFamily: SANS };
    const nameStyle = { fontSize: 15.5, color: "#111", fontFamily: SANS };
    const option: any = {
      animation: false,
      backgroundColor: "#fff",
      grid: panels.map((p) => ({ ...p.grid, show: true, borderColor: "#000", borderWidth: 1, backgroundColor: "transparent", containLabel: false })),
      xAxis: panels.map((p, i) => ({
        type: "value", gridIndex: i, min: p.xMin, max: p.xMax, interval: 1,
        name: p.xName, nameLocation: "middle", nameGap: p.xGap,
        nameTextStyle: nameStyle,
        axisLine: { show: true, onZero: false, lineStyle: { color: "#000", width: 1 } },
        axisTick: { show: true, length: 6, lineStyle: { color: "#000" } },
        axisLabel: { ...axisLabel, margin: 9 },
        splitLine: { show: false },
      })),
      yAxis: panels.map((p, i) => ({
        type: "value", gridIndex: i, min: yRange[0], max: yRange[1], interval: yStep,
        name: "new business density", nameLocation: "middle", nameGap: p.yGap, nameRotate: 90,
        nameTextStyle: nameStyle,
        axisLine: { show: true, onZero: false, lineStyle: { color: "#000", width: 1 } },
        axisTick: { show: true, length: 6, lineStyle: { color: "#000" } },
        axisLabel: { ...axisLabel, margin: 13 },
        splitLine: { show: false },
      })),
      series: panels.flatMap((p, i) => [
        {
          type: "scatter", xAxisIndex: i, yAxisIndex: i, data: p.data,
          symbol: "circle", symbolSize: 5, itemStyle: { color: "#0000ff", opacity: 1 },
          silent: true, z: 2,
        },
        {
          type: "line", xAxisIndex: i, yAxisIndex: i, data: p.fit,
          symbol: "none", lineStyle: { color: "#ff2020", width: 1 }, silent: true, z: 3,
        },
      ]),
      graphic: [
        ...titles.map((t) => ({
          type: "text", x: t.x, y: t.y, scaleX: 0.93,
          style: {
            text: `{b|${t.bold}}{n|${t.rest}}`,
            align: "center", verticalAlign: "middle",
            rich: {
              b: { fontWeight: "bold", fontSize: 28, fontFamily: NARROW, fill: "#000" },
              n: { fontSize: 28, fontFamily: NARROW, fill: "#000" },
            },
          },
        })),
        ...subtitles.map((s) => ({
          type: "text", x: s.x, y: s.y, scaleX: 0.92,
          style: { text: s.text, fontSize: 28, fontFamily: NARROW, fill: "#000", align: "center", verticalAlign: "middle" },
        })),
      ],
    };
    chart.setOption(option);
    return () => chart.dispose();
  }, []);
  return (
    <div
      ref={ref}
      style={{ position: "absolute", left: 0, top: 0, width: 1265, height: 1504, background: "#fff" }}
    />
  );
}
